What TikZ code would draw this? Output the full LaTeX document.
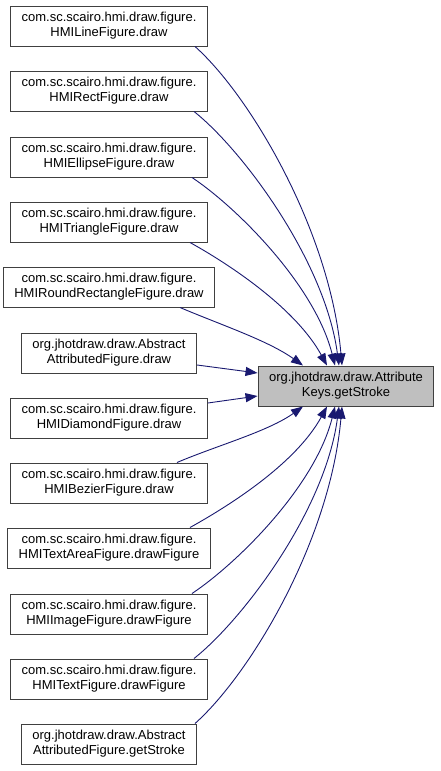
\documentclass[tikz,border=0pt]{standalone}
\usepackage{fontspec}
\setmainfont{Liberation Sans}
\usepackage{tikz}
\usetikzlibrary{arrows.meta, calc}
\definecolor{edgeblue}{HTML}{191970}
\definecolor{boxgray}{HTML}{BFBFBF}
\definecolor{boxline}{HTML}{404040}

\begin{document}
\begin{tikzpicture}[
    x=1pt, y=-1pt,
    font=\fontsize{13}{15}\selectfont,
    caller/.style={rectangle, draw=boxline, line width=1pt, fill=white, align=center,
                   inner xsep=11pt, inner ysep=0pt, minimum height=40pt},
    target/.style={caller, fill=boxgray, minimum width=172pt},
    arrow/.style={-{Triangle[length=12pt, width=9pt]}, line width=0.9pt, draw=edgeblue}
  ]
    \useasboundingbox (0,0) rectangle (441,771);

    \node[caller] (line)      at (109,26)  {com.sc.scairo.hmi.draw.figure.\\HMILineFigure.draw};
    \node[caller] (rect)      at (109,91)  {com.sc.scairo.hmi.draw.figure.\\HMIRectFigure.draw};
    \node[caller] (ellipse)   at (109,157) {com.sc.scairo.hmi.draw.figure.\\HMIEllipseFigure.draw};
    \node[caller] (triangle)  at (109,222) {com.sc.scairo.hmi.draw.figure.\\HMITriangleFigure.draw};
    \node[caller] (roundrect) at (109,287) {com.sc.scairo.hmi.draw.figure.\\HMIRoundRectangleFigure.draw};
    \node[caller] (absdraw)   at (109,353) {org.jhotdraw.draw.Abstract\\AttributedFigure.draw};
    \node[caller] (diamond)   at (109,418) {com.sc.scairo.hmi.draw.figure.\\HMIDiamondFigure.draw};
    \node[caller] (bezier)    at (109,483) {com.sc.scairo.hmi.draw.figure.\\HMIBezierFigure.draw};
    \node[caller] (textarea)  at (109,548) {com.sc.scairo.hmi.draw.figure.\\HMITextAreaFigure.drawFigure};
    \node[caller] (image)     at (109,614) {com.sc.scairo.hmi.draw.figure.\\HMIImageFigure.drawFigure};
    \node[caller] (textfig)   at (109,679) {com.sc.scairo.hmi.draw.figure.\\HMITextFigure.drawFigure};
    \node[caller] (absstroke) at (109,744) {org.jhotdraw.draw.Abstract\\AttributedFigure.getStroke};

    \node[target] (key) at (346,386) {org.jhotdraw.draw.Attribute\\Keys.getStroke};

    % callers above the key
    \draw[arrow] ($(line.south)+(86,0)$) .. controls +(55,49) and +(-12,-135) .. ($(key.north)+(-4,0)$);
    \draw[arrow] ($(rect.south)+(85,0)$) .. controls +(48,38) and +(-14,-105) .. ($(key.north)+(-7,0)$);
    \draw[arrow] ($(ellipse.south)+(83,0)$) .. controls +(45,30) and +(-20,-80) .. ($(key.north)+(-11,0)$);
    \draw[arrow] ($(triangle.south)+(81,0)$) .. controls +(45,25) and +(-30,-55) .. ($(key.north)+(-19,0)$);
    \draw[arrow] ($(roundrect.south)+(71,0)$) .. controls +(40,17) and +(-35,-25) .. ($(key.north)+(-43,0)$);

    % callers level with the key
    \draw[arrow] ($(absdraw.east)+(0,12)$) -- ($(key.west)+(0,-13)$);
    \draw[arrow] ($(diamond.east)+(0,-15)$) -- ($(key.west)+(0,10)$);

    % callers below the key
    \draw[arrow] ($(bezier.north)+(68,0)$) .. controls +(40,-17) and +(-35,25) .. ($(key.south)+(-43,0)$);
    \draw[arrow] ($(textarea.north)+(81,0)$) .. controls +(45,-25) and +(-30,55) .. ($(key.south)+(-19,0)$);
    \draw[arrow] ($(image.north)+(83,0)$) .. controls +(45,-30) and +(-20,80) .. ($(key.south)+(-11,0)$);
    \draw[arrow] ($(textfig.north)+(85,0)$) .. controls +(48,-38) and +(-14,105) .. ($(key.south)+(-7,0)$);
    \draw[arrow] ($(absstroke.north)+(86,0)$) .. controls +(55,-49) and +(-12,135) .. ($(key.south)+(-4,0)$);
\end{tikzpicture}
\end{document}
